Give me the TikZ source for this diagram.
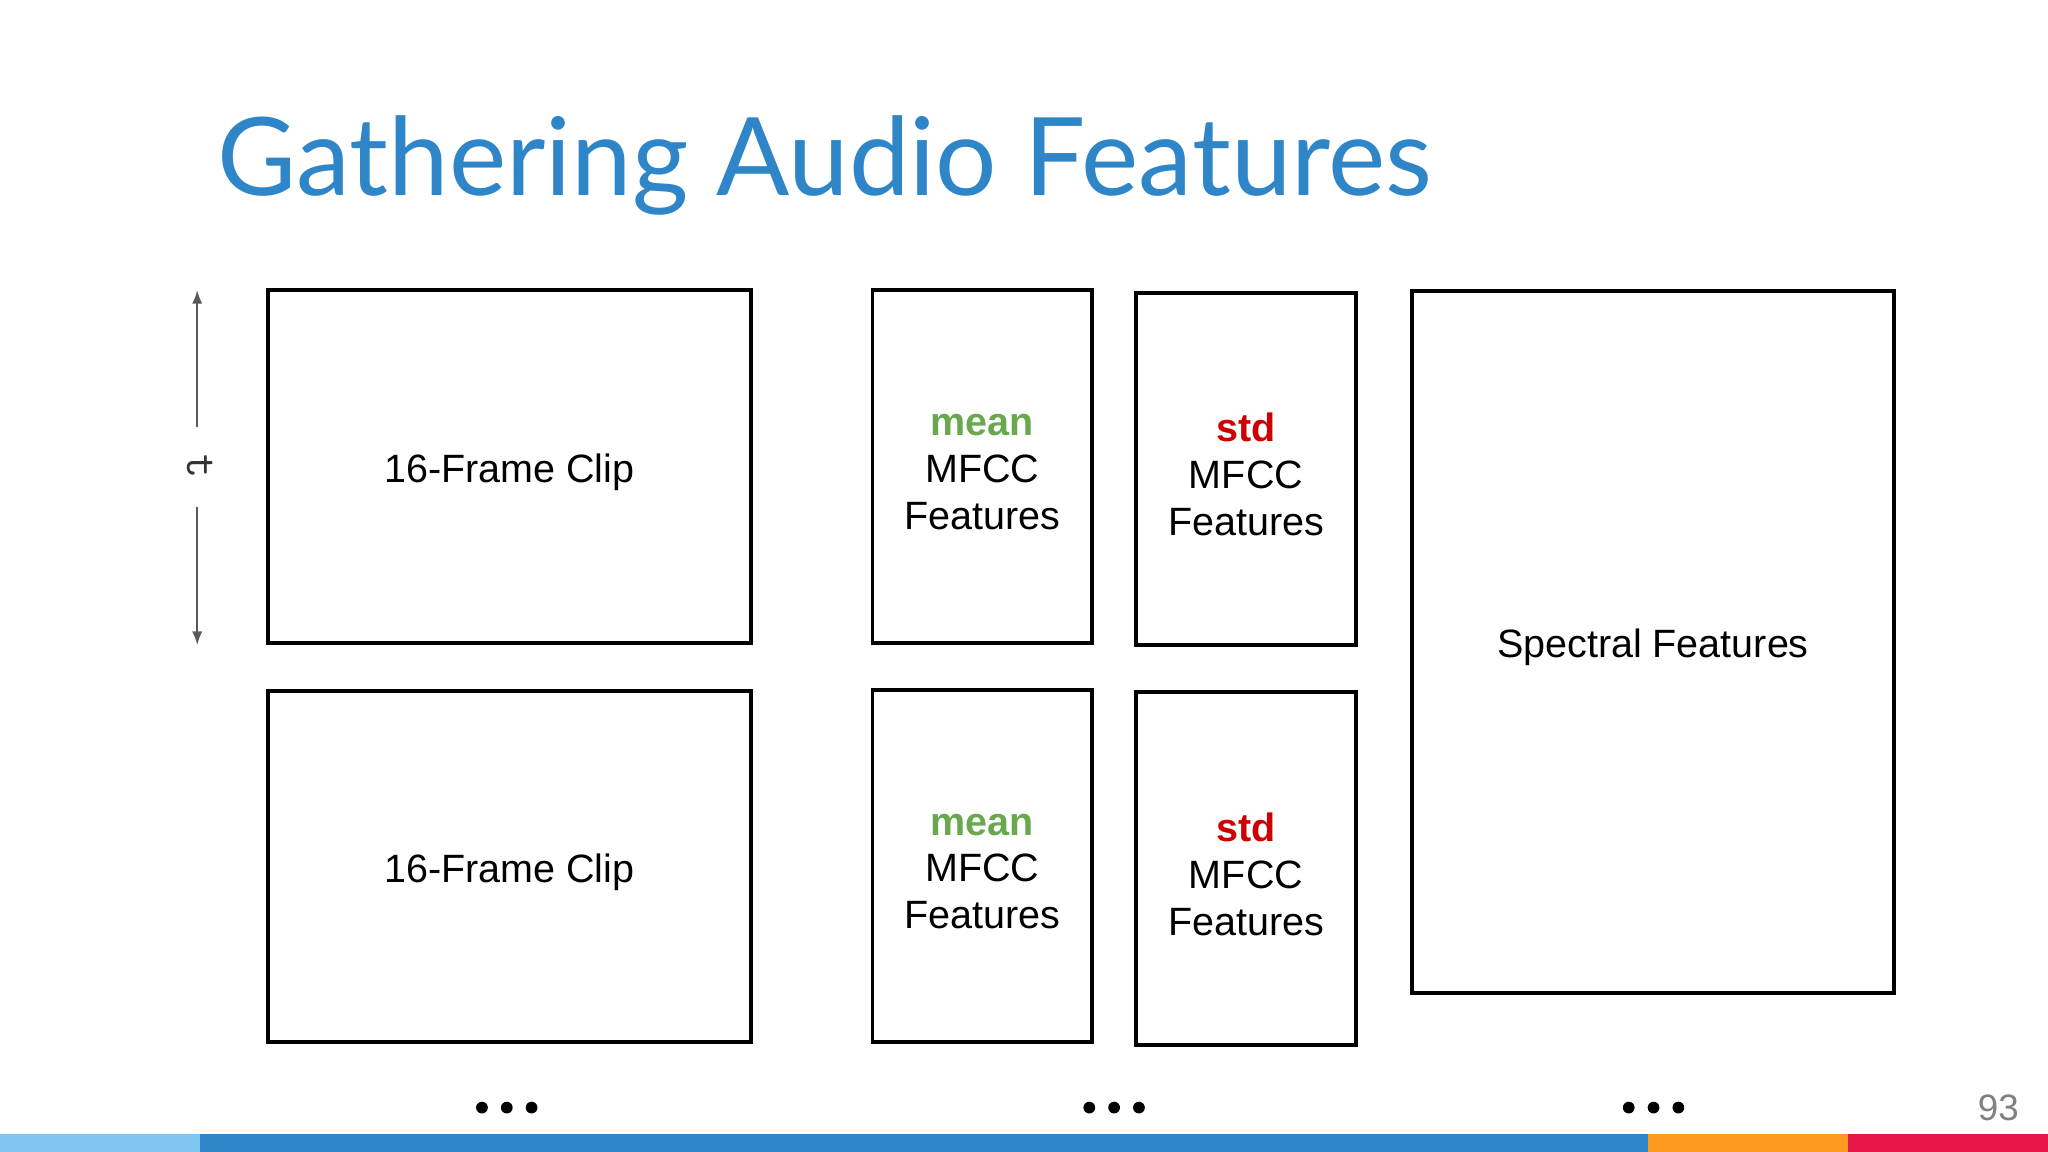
\documentclass[tikz,border=0pt]{standalone}
\usepackage{fontspec}
\setmainfont{Liberation Sans}
\newfontfamily\titlefont{Lato}
\usetikzlibrary{arrows.meta}
\definecolor{tblue}{HTML}{2E86C8}
\definecolor{lblue}{HTML}{7FC6F5}
\definecolor{borange}{HTML}{FF9A1F}
\definecolor{bred}{HTML}{E8174A}
\definecolor{mgreen}{HTML}{6AA84F}
\definecolor{sred}{HTML}{CC0000}
\begin{document}
\begin{tikzpicture}[x=0.01cm,y=-0.01cm,
  box/.style={draw=black,line width=0.85pt},
  lbl/.style={font=\fontsize{8.6pt}{10.2pt}\selectfont,align=center,text=black,yshift=-1.2pt},
  dots/.style={font=\fontsize{9pt}{10pt}\selectfont}]
\useasboundingbox (0,0) rectangle (1568,882);
\fill[white] (0,0) rectangle (1568,882);
\node[anchor=base west,text=tblue,inner sep=0,font=\titlefont\fontsize{23.6pt}{26pt}\selectfont] (title) at (166,150) {Gathering Audio Features};
\draw[box] (205,222) rectangle (575,492) node[midway,lbl] (c1) {16-Frame Clip};
\draw[box] (205,529) rectangle (575,798) node[midway,lbl] (c2) {16-Frame Clip};
\draw[box] (668,222) rectangle (836,492) node[midway,lbl] (m1) {\textcolor{mgreen}{\textbf{mean}}\\MFCC\\Features};
\draw[box] (668,528) rectangle (836,798) node[midway,lbl] (m2) {\textcolor{mgreen}{\textbf{mean}}\\MFCC\\Features};
\draw[box] (870,224) rectangle (1038,494) node[midway,lbl] (s1) {\textcolor{sred}{\textbf{std}}\\MFCC\\Features};
\draw[box] (870,530) rectangle (1038,800) node[midway,lbl] (s2) {\textcolor{sred}{\textbf{std}}\\MFCC\\Features};
\draw[box] (1081,223) rectangle (1450,760) node[midway,lbl] (sp) {Spectral Features};
\node[rotate=-90,font=\fontsize{10pt}{11pt}\selectfont\ttfamily,text=black!80] (t) at (153,357) {t};
\coordinate (ta) at (151,222);
\coordinate (tb) at (151,494);
\draw[-{Latex[length=3pt]},gray!70!black,line width=0.5pt] (151,327) -- (ta);
\draw[-{Latex[length=3pt]},gray!70!black,line width=0.5pt] (151,388) -- (tb);
\foreach \n/\x in {d1/388,d2/853,d3/1266}{
  \node[inner sep=0] (\n) at (\x,848) {};
  \foreach \dx in {-19,0,19}{\fill[black] (\x+\dx,848) circle (0.045cm);}
}
\node[text=gray,font=\fontsize{8pt}{9pt}\selectfont] (pn) at (1530,848) {93};
\fill[lblue] (0,868) rectangle (153,882);
\fill[tblue] (153,868) rectangle (1262,882);
\fill[borange] (1262,868) rectangle (1415,882);
\fill[bred] (1415,868) rectangle (1568,882);
\end{tikzpicture}
\end{document}
